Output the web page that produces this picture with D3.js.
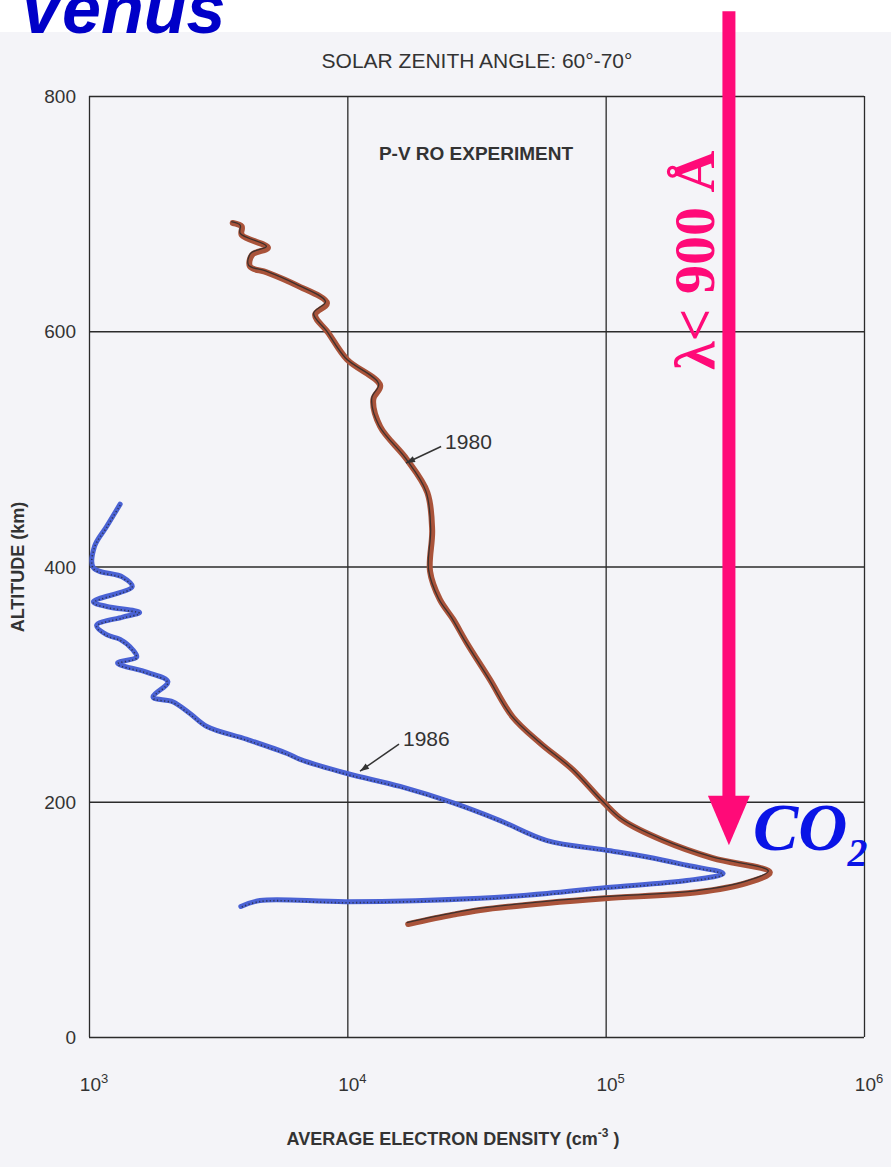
<!DOCTYPE html>
<html>
<head>
<meta charset="utf-8">
<script src="https://cdn.jsdelivr.net/npm/d3@7"></script>
<style>
  body { margin: 0; background: #f4f4f8; }
  svg { display: block; }
  .grid line, .grid path { stroke: #2b2b2b; stroke-width: 1.3; }
  .tick-label { font-family: "Liberation Sans", Arial, sans-serif; fill: #333; }
</style>
</head>
<body>
<script>
// values
var yTicks = [0, 200, 400, 600, 800];
var xTicks = [1e3, 1e4, 1e5, 1e6];
var xExp = ["3", "4", "5", "6"];

// 1980 profile (altitude km, electron density cm^-3)
var alt1980 = [692, 689, 682, 671, 665, 655, 650, 639, 624, 614, 599, 576, 554, 542, 519, 491, 463, 431, 396, 372, 355, 335, 304, 272, 250, 227, 200, 184, 167, 152, 140, 131, 123, 118, 114, 108, 104, 96];
var dens1980 = [3600, 3900, 3900, 4930, 4280, 4200, 4890, 6380, 8340, 7500, 8420, 9970, 13400, 12600, 13400, 17000, 20400, 21300, 20900, 22800, 25700, 29000, 35600, 43700, 55700, 74800, 97700, 117000, 167000, 260000, 432000, 352000, 226000, 99600, 59300, 32700, 25700, 17200];

// 1986 profile
var alt1986 = [453, 434, 417, 399, 391, 383, 370, 366, 361, 357, 350, 342, 338, 329, 323, 318, 310, 302, 289, 285, 275, 264, 253, 241, 236, 224, 213, 199, 184, 167, 159, 153, 146, 139, 133, 127, 122, 118, 115, 116, 111];
var dens1986 = [1320, 1170, 1050, 1040, 1350, 1470, 1040, 1170, 1570, 1350, 1070, 1170, 1320, 1480, 1530, 1290, 1680, 2020, 1770, 2110, 2460, 2860, 4090, 5850, 6560, 9980, 16000, 25700, 39000, 59300, 99600, 145000, 206000, 285000, 206000, 99600, 59300, 32700, 9980, 4590, 3870];

// label leaders: [density, altitude] from text end to curve
var lead1980 = [[23070, 502], [16870, 488]];
var lead1986 = [[15850, 249], [11200, 226]];

// pink arrow: wavelength cutoff
var arrowDens = 3.0e5, arrowTop = 872, arrowNeck = 205, arrowTip = 163;

var width = 891, height = 1167;

var svg = d3.select("body").append("svg")
    .attr("width", width)
    .attr("height", height);

// paper background
svg.append("rect").attr("width", width).attr("height", height).attr("fill", "#f4f4f8");
svg.append("rect").attr("width", width).attr("height", 32).attr("fill", "#ffffff");

var x = d3.scaleLog().domain([1e3, 1e6]).range([89, 864]);
var y = d3.scaleLinear().domain([0, 800]).range([1037, 96]);

// gridlines
svg.append("g")
    .attr("class", "grid")
    .attr("transform", "translate(0," + y(0) + ")")
    .call(d3.axisBottom(x).tickValues(xTicks).tickSize(-(y(0) - y(800))).tickFormat(""))
    .call(function(g){ g.select(".domain").remove(); });

svg.append("g")
    .attr("class", "grid")
    .attr("transform", "translate(" + x(1e3) + ",0)")
    .call(d3.axisLeft(y).tickValues(yTicks).tickSize(-(x(1e6) - x(1e3))).tickFormat(""))
    .call(function(g){ g.select(".domain").remove(); });

// y tick labels
svg.selectAll(".ylab")
    .data(yTicks)
    .enter()
    .append("text")
    .attr("class", "tick-label")
    .attr("x", x(1e3) - 13)
    .attr("y", function(d){ return y(d) + 7; })
    .attr("text-anchor", "end")
    .attr("font-size", 19)
    .text(function(d){ return d; });

// x tick labels 10^n
var xl = svg.selectAll(".xlab")
    .data(xTicks)
    .enter()
    .append("text")
    .attr("class", "tick-label")
    .attr("x", function(d){ return x(d) + 5; })
    .attr("y", 1091)
    .attr("text-anchor", "middle")
    .attr("font-size", 19);
xl.append("tspan").text("10");
xl.append("tspan")
    .attr("dy", -8)
    .attr("font-size", 13)
    .text(function(d, i){ return xExp[i]; });

// axis titles
var xt = svg.append("text")
    .attr("class", "tick-label")
    .attr("x", 453)
    .attr("y", 1145)
    .attr("text-anchor", "middle")
    .attr("font-size", 18)
    .attr("font-weight", "bold");
xt.append("tspan").text("AVERAGE  ELECTRON  DENSITY (cm");
xt.append("tspan").attr("dy", -8).attr("font-size", 12).text("-3");
xt.append("tspan").attr("dy", 8).text(" )");

svg.append("text")
    .attr("class", "tick-label")
    .attr("transform", "translate(24,567) rotate(-90)")
    .attr("text-anchor", "middle")
    .attr("font-size", 18)
    .attr("font-weight", "bold")
    .text("ALTITUDE (km)");

svg.append("text")
    .attr("class", "tick-label")
    .attr("x", 477)
    .attr("y", 68)
    .attr("text-anchor", "middle")
    .attr("font-size", 21)
    .text("SOLAR ZENITH ANGLE:  60°-70°");

svg.append("text")
    .attr("class", "tick-label")
    .attr("x", 476)
    .attr("y", 160)
    .attr("text-anchor", "middle")
    .attr("font-size", 19)
    .attr("font-weight", "bold")
    .attr("fill", "#3a3a3a")
    .text("P-V  RO  EXPERIMENT");

// profiles
var line = d3.line()
    .x(function(d){ return x(d[1]); })
    .y(function(d){ return y(d[0]); })
    .curve(d3.curveCatmullRom.alpha(0.5));

var p1980 = d3.zip(alt1980, dens1980);
var p1986 = d3.zip(alt1986, dens1986);

svg.append("path")
    .datum(p1980)
    .attr("d", line)
    .attr("fill", "none")
    .attr("stroke", "#a9533a")
    .attr("stroke-width", 6)
    .attr("stroke-linejoin", "round")
    .attr("stroke-linecap", "round");
svg.append("path")
    .datum(p1980)
    .attr("d", line)
    .attr("transform", "translate(-1.5,-1.5)")
    .attr("fill", "none")
    .attr("stroke", "#2a2a2a")
    .attr("stroke-width", 1.3)
    .attr("stroke-opacity", 0.85);

svg.append("path")
    .datum(p1986)
    .attr("d", line)
    .attr("fill", "none")
    .attr("stroke", "#4a62d4")
    .attr("stroke-width", 5)
    .attr("stroke-linejoin", "round")
    .attr("stroke-linecap", "round");
svg.append("path")
    .datum(p1986)
    .attr("d", line)
    .attr("transform", "translate(0,1)")
    .attr("fill", "none")
    .attr("stroke", "#222")
    .attr("stroke-width", 1.6)
    .attr("stroke-dasharray", "1.2,2.4")
    .attr("stroke-opacity", 0.7);

// year labels with leader arrows
function leader(pts, label){
    var x0 = x(pts[0][0]), y0 = y(pts[0][1]);
    var x1 = x(pts[1][0]), y1 = y(pts[1][1]);
    svg.append("line")
        .attr("x1", x0).attr("y1", y0).attr("x2", x1).attr("y2", y1)
        .attr("stroke", "#333").attr("stroke-width", 1.5);
    var a = Math.atan2(y1 - y0, x1 - x0);
    var L = 9, W = 3.2;
    var bx = x1 - L * Math.cos(a), by = y1 - L * Math.sin(a);
    svg.append("path")
        .attr("d", "M" + x1 + "," + y1 +
            "L" + (bx - W * Math.sin(a)) + "," + (by + W * Math.cos(a)) +
            "L" + (bx + W * Math.sin(a)) + "," + (by - W * Math.cos(a)) + "Z")
        .attr("fill", "#333");
    svg.append("text")
        .attr("class", "tick-label")
        .attr("x", x0 + 4)
        .attr("y", y0 + 2)
        .attr("font-size", 21)
        .text(label);
}
leader(lead1980, "1980");
leader(lead1986, "1986");

// pink cutoff arrow
var ax = x(arrowDens);
svg.append("line")
    .attr("x1", ax).attr("x2", ax)
    .attr("y1", y(arrowTop)).attr("y2", y(arrowNeck) + 2)
    .attr("stroke", "#ff0a78").attr("stroke-width", 13);
svg.append("path")
    .attr("d", "M" + (ax - 21) + "," + y(arrowNeck) + "L" + (ax + 21) + "," + y(arrowNeck) + "L" + ax + "," + y(arrowTip) + "Z")
    .attr("fill", "#ff0a78");

svg.append("text")
    .attr("transform", "translate(" + (ax - 15) + ",370) rotate(-90)")
    .attr("font-family", "'Liberation Serif', 'Times New Roman', serif")
    .attr("font-weight", "bold")
    .attr("font-size", 58)
    .attr("fill", "#ff0a78")
    .text("λ< 900 Å");

// CO2
var co = svg.append("text")
    .attr("x", 753)
    .attr("y", 850)
    .attr("font-family", "'Liberation Serif', 'Times New Roman', serif")
    .attr("font-weight", "bold")
    .attr("font-style", "italic")
    .attr("font-size", 68)
    .attr("fill", "#0a14e6");
co.append("tspan").text("CO");
co.append("tspan").attr("dy", 16).attr("font-size", 40).text("2");

// title (cut off at the top edge, as in the original slide)
svg.append("text")
    .attr("x", 18)
    .attr("y", 33)
    .attr("font-family", "'Liberation Sans', Arial, sans-serif")
    .attr("font-weight", "bold")
    .attr("font-style", "italic")
    .attr("font-size", 70)
    .attr("fill", "#0000c8")
    .text("Venus");
</script>
</body>
</html>
